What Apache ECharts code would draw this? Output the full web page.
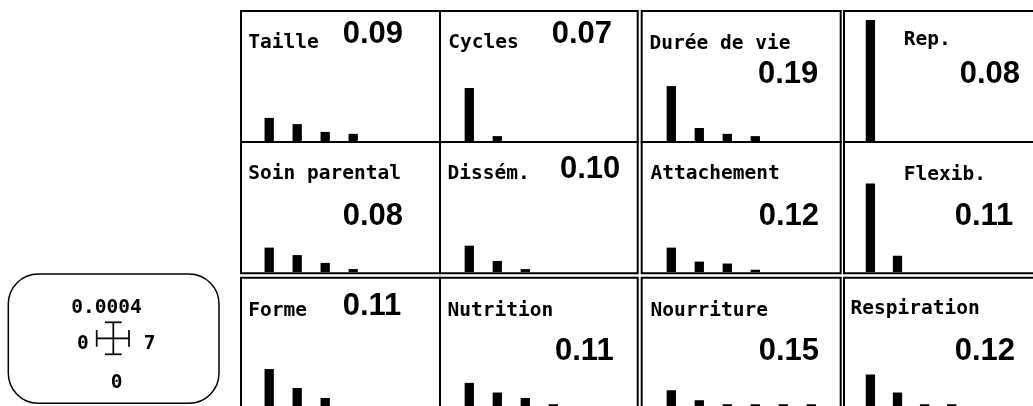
<!DOCTYPE html>
<html><head><meta charset="utf-8">
<script src="https://cdn.jsdelivr.net/npm/echarts@6/dist/echarts.min.js"></script>
<style>html,body{margin:0;padding:0;background:#fff;}#c{width:1033px;height:406px;}</style>
</head><body><div id="c"></div>
<script>
// ---------------- data ----------------
const titles = ['Taille', 'Cycles', 'Durée de vie', 'Rep.',
                'Soin parental', 'Dissém.', 'Attachement', 'Flexib.',
                'Forme', 'Nutrition', 'Nourriture', 'Respiration'];
const scores = [0.09, 0.07, 0.19, 0.08, 0.08, 0.10, 0.12, 0.11, 0.11, 0.11, 0.15, 0.12];
const taille      = [7.1e-5, 5.2e-5, 2.8e-5, 2.2e-5];
const cycles      = [1.63e-4, 1.5e-5];
const dureeDeVie  = [1.69e-4, 4.0e-5, 2.2e-5, 1.5e-5];
const rep         = [3.72e-4];
const soinParental= [7.5e-5, 5.2e-5, 2.8e-5, 0.9e-5];
const dissem      = [8.1e-5, 3.4e-5, 0.9e-5];
const attachement = [7.5e-5, 3.2e-5, 2.6e-5, 0.7e-5];
const flexib      = [2.72e-4, 5.0e-5];
const forme       = [1.15e-4, 5.6e-5, 2.5e-5];
const nutrition   = [7.2e-5, 4.2e-5, 2.5e-5, 0.55e-5];
const nourriture  = [4.9e-5, 1.8e-5, 0.55e-5, 0.55e-5, 0.55e-5, 0.55e-5];
const respiration = [9.8e-5, 4.2e-5, 0.55e-5, 0.55e-5];
const panelBars = [taille, cycles, dureeDeVie, rep, soinParental, dissem,
                   attachement, flexib, forme, nutrition, nourriture, respiration];
const xTickLabels = ['0', '7'];
const yTickLabels = ['0', '0.0004'];

// ---------------- layout ----------------
const colBorder = [[241, 440], [440, 637.7], [641.7, 840.7], [844, 1045]];
const rowBorder = [[11, 142], [142, 273.3], [277.7, 408.5]];
const barLeft = [241.2, 441.3, 643.3, 843.3];
const baseY = [141, 272, 407.5];
const plotH = 130, plotW = 196;
const titlePos = [[248.3, 42.6], [448.3, 42.6], [649.5, 43.6], [903.8, 40.3],
                  [248.3, 173.8], [447.5, 174], [650.5, 174], [903.8, 174.5],
                  [248.3, 311.3], [447.5, 311], [650.5, 311], [850.5, 308.5]];
const valuePos = [[342.7, 34.4], [551.7, 34.2], [758, 74.5], [959.7, 74.5],
                  [342.7, 216.8], [560, 169.5], [758.7, 216.5], [954.7, 216.5],
                  [342.7, 306.2], [555, 351.2], [758.7, 351.2], [954.7, 351.2]];
const titleFont = {fontFamily: '"DejaVu Sans Mono"', fontWeight: 'bold', fontSize: 19.5};
const valueFont = {fontFamily: '"Liberation Sans", Arial', fontWeight: 'bold', fontSize: 31};

const grids = [], xAxes = [], yAxes = [], series = [], graphics = [];
const xMax = Number(xTickLabels[xTickLabels.length - 1]);
const yMax = Number(yTickLabels[yTickLabels.length - 1]);

for (let i = 0; i < 12; i++) {
  const r = Math.floor(i / 4), c = i % 4;
  grids.push({left: barLeft[c], top: baseY[r] - plotH, width: plotW, height: plotH});
  xAxes.push({gridIndex: i, type: 'value', min: Number(xTickLabels[0]), max: xMax, show: false});
  yAxes.push({gridIndex: i, type: 'value', min: Number(yTickLabels[0]), max: yMax, show: false});
  series.push({
    type: 'bar', xAxisIndex: i, yAxisIndex: i, barWidth: 9.3,
    itemStyle: {color: '#000'}, silent: true, animation: false,
    data: panelBars[i].map((v, k) => [k + 1, v])
  });
  graphics.push({
    type: 'rect', silent: true, z: 10,
    shape: {x: colBorder[c][0], y: rowBorder[r][0],
            width: colBorder[c][1] - colBorder[c][0], height: rowBorder[r][1] - rowBorder[r][0]},
    style: {fill: null, stroke: '#000', lineWidth: 2}
  });
  graphics.push({
    type: 'text', z: 20, x: titlePos[i][0], y: titlePos[i][1],
    style: Object.assign({text: titles[i], fill: '#000', align: 'left', verticalAlign: 'middle'}, titleFont)
  });
  graphics.push({
    type: 'text', z: 20, x: valuePos[i][0], y: valuePos[i][1],
    style: Object.assign({text: scores[i].toFixed(2), fill: '#000', align: 'left', verticalAlign: 'middle'}, valueFont)
  });
}

// legend key
const legStroke = {stroke: '#000', lineWidth: 1.7};
graphics.push({type: 'rect', z: 10, shape: {x: 8.3, y: 274, width: 210.7, height: 129.3, r: 30},
               style: {fill: '#fff', stroke: '#000', lineWidth: 1.5}});
const legText = (t, x, y) => ({type: 'text', z: 20, x, y,
  style: Object.assign({text: t, fill: '#000', align: 'center', verticalAlign: 'middle'}, titleFont)});
graphics.push(legText(yTickLabels[1], 106.4, 308.3));
graphics.push(legText(xTickLabels[0], 82.8, 344.3));
graphics.push(legText(xTickLabels[1], 149.7, 344.3));
graphics.push(legText(yTickLabels[0], 116.7, 382.6));
const seg = (x1, y1, x2, y2) => ({type: 'line', z: 20, shape: {x1, y1, x2, y2}, style: legStroke});
graphics.push(seg(113.3, 322.3, 113.3, 354.3));
graphics.push(seg(105, 322.3, 121.7, 322.3));
graphics.push(seg(105, 354.3, 121.7, 354.3));
graphics.push(seg(96.7, 338.3, 129, 338.3));
graphics.push(seg(96.7, 330, 96.7, 346.7));
graphics.push(seg(129, 330, 129, 346.7));

const chart = echarts.init(document.getElementById('c'), null, {renderer: 'canvas'});
chart.setOption({
  animation: false,
  backgroundColor: '#fff',
  grid: grids, xAxis: xAxes, yAxis: yAxes, series: series,
  graphic: graphics
});
</script></body></html>
